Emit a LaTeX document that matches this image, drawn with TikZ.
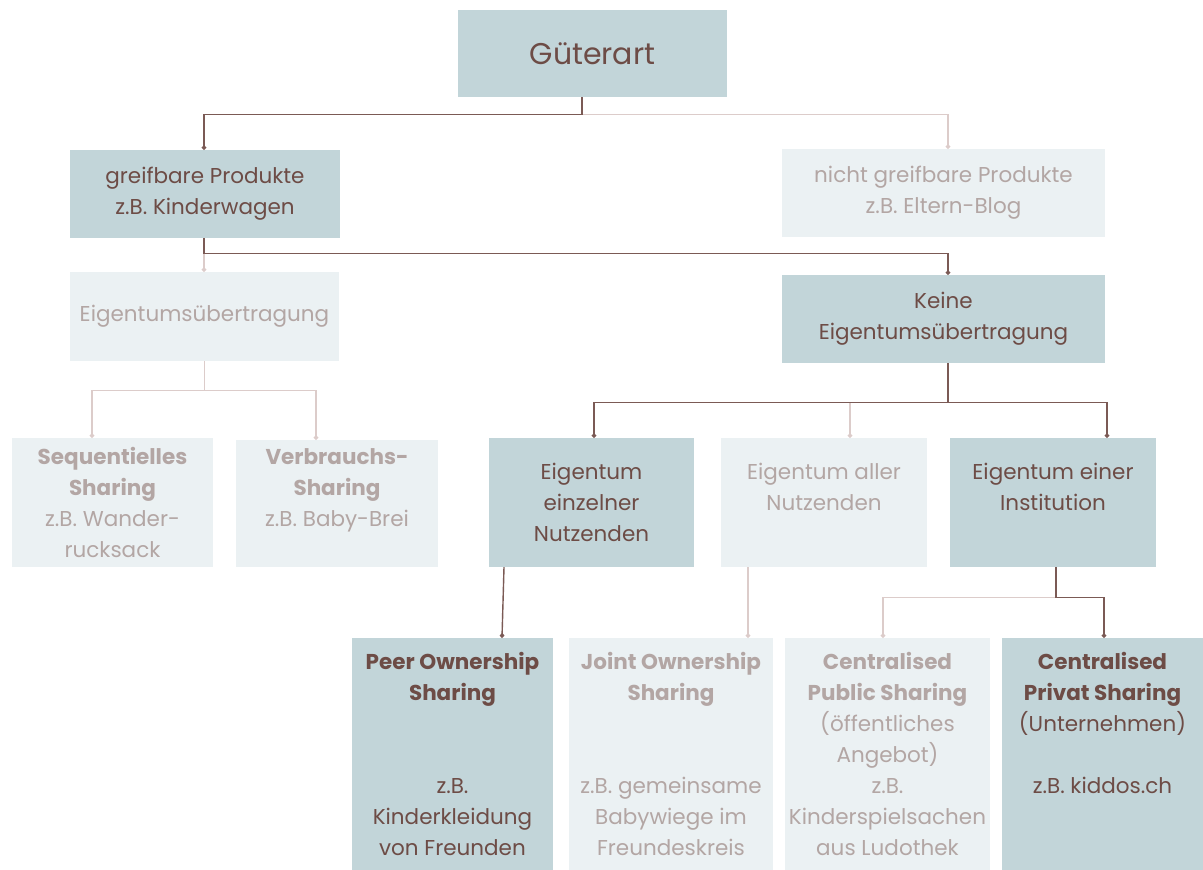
\documentclass[tikz,border=0pt]{standalone}
\usepackage{fontspec}
\setmainfont{Poppins}
\usetikzlibrary{arrows.meta}
\definecolor{darkfill}{HTML}{C2D5D9}
\definecolor{lightfill}{HTML}{EBF1F3}
\definecolor{darktext}{HTML}{6D4C46}
\definecolor{lighttext}{HTML}{B3A6A4}
\definecolor{darkline}{HTML}{7B5A55}
\definecolor{lightline}{HTML}{DCCCCA}
\tikzset{
  box/.style={rectangle, inner sep=0pt, align=center,
    font=\fontsize{21.5}{31}\selectfont},
  darkbox/.style={box, fill=darkfill, text=darktext},
  lightbox/.style={box, fill=lightfill, text=lighttext},
  darkconn/.style={draw=darkline, line width=1.4pt, -{Circle[length=4.5pt]}},
  lightconn/.style={draw=lightline, line width=1.4pt, -{Circle[length=4.5pt]}},
}
\begin{document}
\begin{tikzpicture}[x=1pt,y=-1pt]
\useasboundingbox (0,0) rectangle (1203,870);

% top level
\node[darkbox, minimum width=269pt, minimum height=87pt, font=\fontsize{30}{36}\selectfont]
  (gut) at (592.5,53.5) {Güterart};

% second level
\node[darkbox, minimum width=270pt, minimum height=88pt] (greif) at (205,194)
  {greifbare Produkte\\z.B. Kinderwagen};
\node[lightbox, minimum width=323pt, minimum height=88pt] (nicht) at (943.5,193)
  {nicht greifbare Produkte\\z.B. Eltern-Blog};

% third level
\node[lightbox, minimum width=269pt, minimum height=89pt] (eig) at (204.5,316.5)
  {Eigentumsübertragung};
\node[darkbox, minimum width=323pt, minimum height=88pt] (keine) at (943.5,319)
  {Keine\\Eigentumsübertragung};

% fourth level
\node[lightbox, minimum width=201pt, minimum height=129pt] (seq) at (112.5,502.5)
  {\textbf{Sequentielles}\\\textbf{Sharing}\\z.B. Wander-\\rucksack};
\node[lightbox, minimum width=202pt, minimum height=127pt] (verb) at (337,503.5)
  {\textbf{Verbrauchs-}\\\textbf{Sharing}\\z.B. Baby-Brei\\\mbox{}};
\node[darkbox, minimum width=205pt, minimum height=129pt] (einz) at (591.5,502.5)
  {Eigentum\\einzelner\\Nutzenden};
\node[lightbox, minimum width=206pt, minimum height=129pt] (aller) at (824,502.5)
  {Eigentum aller\\Nutzenden\\\mbox{}};
\node[darkbox, minimum width=206pt, minimum height=129pt] (inst) at (1053,502.5)
  {Eigentum einer\\Institution\\\mbox{}};

% fifth level
\node[darkbox, minimum width=201pt, minimum height=232pt] (peer) at (452.5,754)
  {\textbf{Peer Ownership}\\\textbf{Sharing}\\\mbox{}\\\mbox{}\\z.B.\\Kinderkleidung\\von Freunden};
\node[lightbox, minimum width=204pt, minimum height=232pt] (joint) at (671,754)
  {\textbf{Joint Ownership}\\\textbf{Sharing}\\\mbox{}\\\mbox{}\\z.B. gemeinsame\\Babywiege im\\Freundeskreis};
\node[lightbox, minimum width=205pt, minimum height=232pt] (pub) at (887.5,754)
  {\textbf{Centralised}\\\textbf{Public Sharing}\\(öffentliches\\Angebot)\\z.B.\\Kinderspielsachen\\aus Ludothek};
\node[darkbox, minimum width=201pt, minimum height=232pt] (priv) at (1102.5,754)
  {\textbf{Centralised}\\\textbf{Privat Sharing}\\(Unternehmen)\\\mbox{}\\z.B. kiddos.ch\\\mbox{}\\\mbox{}};

% connectors: light branches first, dark ones drawn over them
\draw[lightconn] ([xshift=-10.5pt]gut.south) -- ++(0,17) -| ([xshift=4.5pt]nicht.north);
\draw[darkconn] ([xshift=-10.5pt]gut.south) -- ++(0,17) -| ([xshift=-1pt]greif.north);

\draw[lightconn] ([xshift=-1pt]greif.south) -- ([xshift=-0.5pt]eig.north);
\draw[darkconn] ([xshift=-1pt]greif.south) -- ++(0,15) -| ([xshift=4.5pt]keine.north);

\draw[lightconn] (eig.south) -- ++(0,29) -| ([xshift=-20.5pt]seq.north);
\draw[lightconn] (eig.south) -- ++(0,29) -| ([xshift=-21pt]verb.north);

\draw[lightconn] ([xshift=4.5pt]keine.south) -- ++(0,39) -| ([xshift=26pt]aller.north);
\draw[darkconn] ([xshift=4.5pt]keine.south) -- ++(0,39) -| ([xshift=2.5pt]einz.north);
\draw[darkconn] ([xshift=4.5pt]keine.south) -- ++(0,39) -| ([xshift=54pt]inst.north);

\draw[darkconn] ([xshift=-87.5pt]einz.south) -- ([xshift=49.5pt]peer.north);
\draw[lightconn] ([xshift=-76pt]aller.south) -- ([xshift=77pt]joint.north);

\draw[lightconn] ([xshift=3pt]inst.south) -- ++(0,30) -| ([xshift=-4.5pt]pub.north);
\draw[darkconn] ([xshift=3pt]inst.south) -- ++(0,30) -| ([xshift=1.5pt]priv.north);
\end{tikzpicture}
\end{document}
